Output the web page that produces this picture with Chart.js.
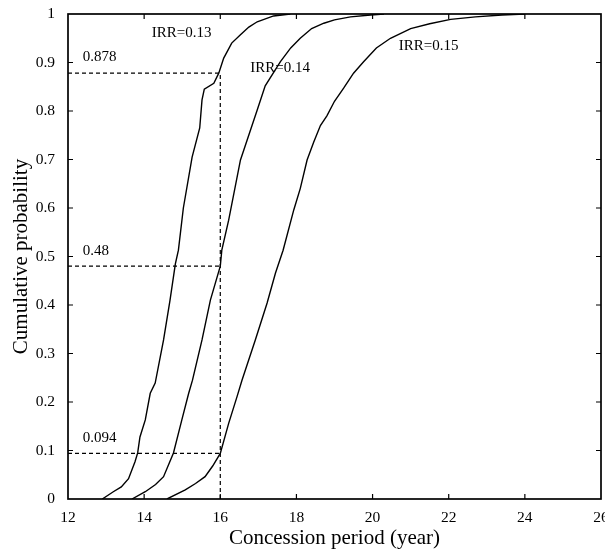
<!DOCTYPE html>
<html>
<head>
<meta charset="utf-8">
<script src="https://cdn.jsdelivr.net/npm/chart.js@4/dist/chart.umd.min.js"></script>
<style>
  html, body { margin: 0; padding: 0; background: #fff; }
  #wrap { width: 605px; height: 551px; }
</style>
</head>
<body>
<div id="wrap"><canvas id="myChart" width="605" height="551"></canvas></div>
<script>
// cumulative probability curves
const irr13X = [12.9, 13.19, 13.4, 13.59, 13.76, 13.83, 13.89, 14.03, 14.16, 14.29, 14.51, 14.68, 14.82, 14.9, 15.03, 15.26, 15.46, 15.52, 15.58, 15.83, 15.96, 16.09, 16.3, 16.53, 16.75, 16.97, 17.4, 17.84];
const irr13Y = [0, 0.015, 0.025, 0.042, 0.077, 0.095, 0.128, 0.163, 0.218, 0.239, 0.328, 0.41, 0.485, 0.513, 0.6, 0.705, 0.765, 0.823, 0.845, 0.857, 0.878, 0.909, 0.94, 0.957, 0.973, 0.984, 0.996, 1.0];

const irr14X = [13.68, 14.03, 14.3, 14.51, 14.77, 14.99, 15.17, 15.27, 15.52, 15.74, 16.0, 16.04, 16.22, 16.53, 16.97, 17.18, 17.58, 17.85, 18.1, 18.4, 18.72, 19.0, 19.42, 19.95, 20.3];
const irr14Y = [0, 0.015, 0.03, 0.046, 0.095, 0.163, 0.218, 0.245, 0.328, 0.41, 0.48, 0.513, 0.575, 0.699, 0.802, 0.852, 0.902, 0.93, 0.95, 0.97, 0.981, 0.988, 0.994, 0.998, 1.0];

const irr15X = [14.6, 15.08, 15.35, 15.6, 15.8, 16.0, 16.22, 16.44, 16.57, 16.92, 17.23, 17.45, 17.65, 17.93, 18.1, 18.28, 18.45, 18.63, 18.8, 19.0, 19.24, 19.5, 19.77, 20.1, 20.47, 21.0, 21.5, 22.05, 22.7, 23.4, 24.0];
const irr15Y = [0, 0.019, 0.032, 0.046, 0.068, 0.094, 0.156, 0.211, 0.245, 0.328, 0.404, 0.466, 0.513, 0.596, 0.64, 0.699, 0.735, 0.77, 0.79, 0.82, 0.847, 0.878, 0.902, 0.93, 0.95, 0.97, 0.98, 0.989, 0.994, 0.998, 1.0];

// reference lines at 16 years
const refYear = 16;
const refProbs = [0.878, 0.48, 0.094];
const refLabels = ['0.878', '0.48', '0.094'];

// text notes: [text, x, y] in data units (left edge, middle)
const notes = [
  ['IRR=0.13', 14.2, 0.96],
  ['IRR=0.14', 16.79, 0.888],
  ['IRR=0.15', 20.69, 0.934],
  [refLabels[0], 12.39, 0.911],
  [refLabels[1], 12.39, 0.512],
  [refLabels[2], 12.39, 0.125]
];

const xTicks = [12, 14, 16, 18, 20, 22, 24, 26];
const yTicks = [0, 0.1, 0.2, 0.3, 0.4, 0.5, 0.6, 0.7, 0.8, 0.9, 1];

const FONT = '"Liberation Serif", "Times New Roman", serif';

function pts(xs, ys) {
  return xs.map((x, i) => ({x: x, y: ys[i]}));
}

const curveStyle = {borderColor: '#000', borderWidth: 1.4, pointRadius: 0, showLine: true, tension: 0, fill: false};
const dashStyle = {borderColor: '#000', borderWidth: 1.2, borderDash: [4, 3], pointRadius: 0, showLine: true, tension: 0, fill: false};

const datasets = [
  Object.assign({label: 'IRR=0.13', data: pts(irr13X, irr13Y)}, curveStyle),
  Object.assign({label: 'IRR=0.14', data: pts(irr14X, irr14Y)}, curveStyle),
  Object.assign({label: 'IRR=0.15', data: pts(irr15X, irr15Y)}, curveStyle)
];
refProbs.forEach(p => {
  datasets.push(Object.assign({label: 'ref ' + p, data: [{x: 12, y: p}, {x: refYear, y: p}]}, dashStyle));
});
datasets.push(Object.assign({label: 'ref year', data: [{x: refYear, y: 0}, {x: refYear, y: Math.max(...refProbs)}]}, dashStyle));

// frame, inward ticks and text notes
const framePlugin = {
  id: 'frame',
  afterDatasetsDraw(chart) {
    const {ctx, chartArea: a, scales: {x, y}} = chart;
    ctx.save();
    ctx.strokeStyle = '#000';
    ctx.lineWidth = 1.7;
    ctx.strokeRect(a.left, a.top, a.right - a.left, a.bottom - a.top);
    ctx.lineWidth = 1.2;
    ctx.beginPath();
    xTicks.slice(1, -1).forEach(v => {
      const px = x.getPixelForValue(v);
      ctx.moveTo(px, a.bottom); ctx.lineTo(px, a.bottom - 5);
      ctx.moveTo(px, a.top); ctx.lineTo(px, a.top + 5);
    });
    yTicks.slice(1, -1).forEach(v => {
      const py = y.getPixelForValue(v);
      ctx.moveTo(a.left, py); ctx.lineTo(a.left + 5, py);
      ctx.moveTo(a.right, py); ctx.lineTo(a.right - 5, py);
    });
    ctx.stroke();
    ctx.fillStyle = '#000';
    ctx.font = '15px ' + FONT;
    ctx.textBaseline = 'middle';
    ctx.textAlign = 'left';
    notes.forEach(n => {
      ctx.fillText(n[0], x.getPixelForValue(n[1]), y.getPixelForValue(n[2]));
    });
    ctx.restore();
  }
};

const ctx = document.getElementById('myChart').getContext('2d');
const myChart = new Chart(ctx, {
  type: 'scatter',
  data: {datasets: datasets},
  options: {
    responsive: false,
    animation: false,
    layout: {padding: {top: 14, right: 4, left: 0, bottom: 0}},
    plugins: {
      legend: {display: false},
      tooltip: {enabled: false}
    },
    scales: {
      x: {
        type: 'linear',
        min: 12,
        max: 26,
        afterBuildTicks: s => { s.ticks = xTicks.map(v => ({value: v})); },
        afterFit: s => { s.height = 52; s.paddingLeft = 0; s.paddingRight = 0; },
        grid: {display: false, drawTicks: false},
        border: {display: false},
        ticks: {color: '#000', font: {family: FONT, size: 15.5}, padding: 10, maxRotation: 0},
        title: {display: true, text: 'Concession period (year)', color: '#000', font: {family: FONT, size: 21}, padding: {top: 0, bottom: 0}}
      },
      y: {
        type: 'linear',
        min: 0,
        max: 1,
        afterBuildTicks: s => { s.ticks = yTicks.map(v => ({value: v})); },
        afterFit: s => { s.width = 68; s.paddingTop = 0; s.paddingBottom = 0; },
        grid: {display: false, drawTicks: false},
        border: {display: false},
        ticks: {color: '#000', font: {family: FONT, size: 15.5}, padding: 13, callback: v => String(Number(v.toFixed(1)))},
        title: {display: true, text: 'Cumulative probability', color: '#000', font: {family: FONT, size: 21}, padding: {top: 9, bottom: 0}}
      }
    }
  },
  plugins: [framePlugin]
});
</script>
</body>
</html>
